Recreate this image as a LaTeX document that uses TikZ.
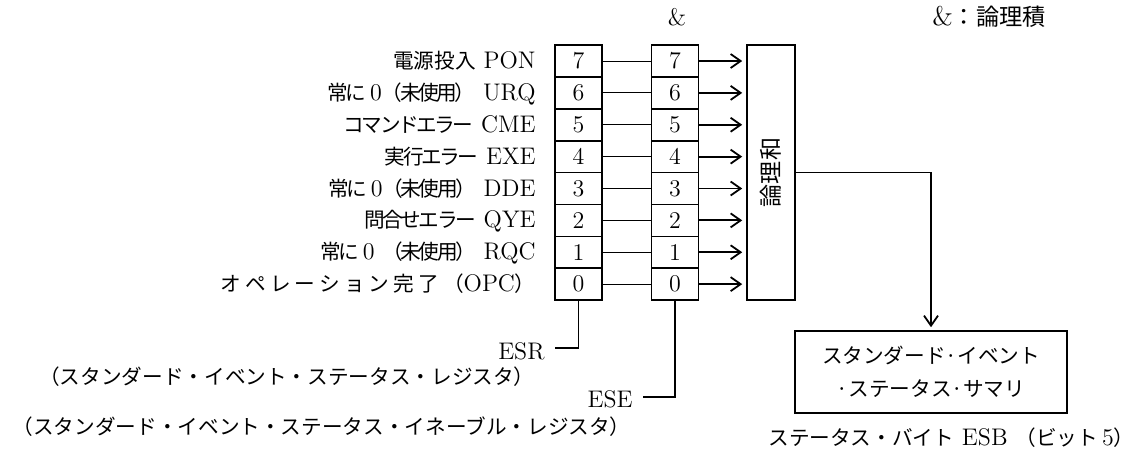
\documentclass[tikz,border=0pt]{standalone}
\usepackage{fontspec}
\newfontfamily\jpfont{Noto Sans CJK JP}[Scale=0.86]
\newcommand\jt[2][0]{{\jpfont\addfontfeatures{LetterSpace=#1}#2}}
\usetikzlibrary{arrows.meta}
\begin{document}
\begin{tikzpicture}[x=0.5pt,y=-0.5pt,
  font=\fontsize{12}{14}\selectfont,
  bitbox/.style={draw, line width=0.8pt, minimum width=23.5pt, minimum height=15.95pt, inner sep=0pt},
  frame/.style={draw, line width=0.8pt, inner sep=0pt},
  conn/.style={line width=0.5pt},
  wire/.style={line width=0.8pt},
  arr/.style={line width=0.9pt, -{Straight Barb[length=5pt,width=7pt]}},
  lbl/.style={anchor=base east, inner sep=0pt},
  jlbl/.style={anchor=east, inner sep=0pt, font=\fontsize{12}{14}\selectfont\jpfont}]
\useasboundingbox (0,0) rectangle (1141,457);

% OR box
\node[frame, minimum width=24pt, minimum height=127.5pt] (or) at (771,172.5) {};
\node[rotate=90, inner sep=0pt, font=\fontsize{13.4}{15}\selectfont\jpfont] (orl) at (or.center) {論理和};

% registers
\foreach \i in {0,...,7} {
  \pgfmathsetmacro\cy{61+31.875*(7-\i)}
  \node[bitbox] (r\i) at (578.5,\cy) {\i};
  \node[bitbox] (e\i) at (675,\cy) {\i};
  \draw[conn] (r\i) -- (e\i);
  \draw[arr, shorten >=2pt] (e\i.east) -- (e\i.east -| or.west);
}

% bit labels
\node[lbl] (l7) at (536,68.5)  {\jt{電源投入}\ PON};
\node[lbl] (l6) at (536,100.4) {\jt[-12]{常に}\,0\jt[-12]{（未使用）}\ URQ};
\node[lbl] (l5) at (536,132.3) {\jt[-12]{コマンドエラー}\ CME};
\node[lbl] (l4) at (536,164.1) {\jt[-12]{実行エラー}\ EXE};
\node[lbl] (l3) at (536,196)   {\jt[-12]{常に}\,0\jt[-12]{（未使用）}\ DDE};
\node[lbl] (l2) at (536,227.9) {\jt[-12]{問合せエラー}\ QYE};
\node[lbl] (l1) at (536,259.8) {\jt[-12]{常に}\,0\ \jt[-12]{（未使用）}\ RQC};
\node[lbl] (l0) at (536,291.6) {\jt[20]{オペレーション完了（}OPC\jt{）}};

% ESR / ESE pointers
\coordinate (esrk) at (555,348);
\coordinate (esek) at (643,397);
\draw[wire] (r0.south) |- (esrk);
\draw[wire] (e0.south) |- (esek);
\node[lbl] (esr) at (545,359) {ESR};
\node[lbl] (ese) at (633,407) {ESE};
\node[jlbl] (esrt) at (535,377) {（スタンダード・イベント・ステータス・レジスタ）};
\node[jlbl] (eset) at (631,427) {（スタンダード・イベント・ステータス・イネーブル・レジスタ）};

% summary
\node[frame, minimum width=136pt, minimum height=41pt, align=center,
      font=\fontsize{12}{16.5}\selectfont\jpfont] (sum) at (931,372)
      {スタンダード·イベント\\·ステータス·サマリ};
\draw[arr, shorten >=1.5pt] (or.east) -| (sum.north);
\node[anchor=base west, inner sep=0pt] (esb) at (768,445)
      {\jt{ステータス・バイト} ESB\ \jt{（ビット}\,5\jt{）}};

% top notes
\node[anchor=base, inner sep=0pt] (amp) at (677,25) {\&};
\node[anchor=base west, inner sep=0pt, font=\fontsize{13.5}{15}\selectfont] (note) at (932,25) {\&\jt{：論理積}};
\end{tikzpicture}
\end{document}
